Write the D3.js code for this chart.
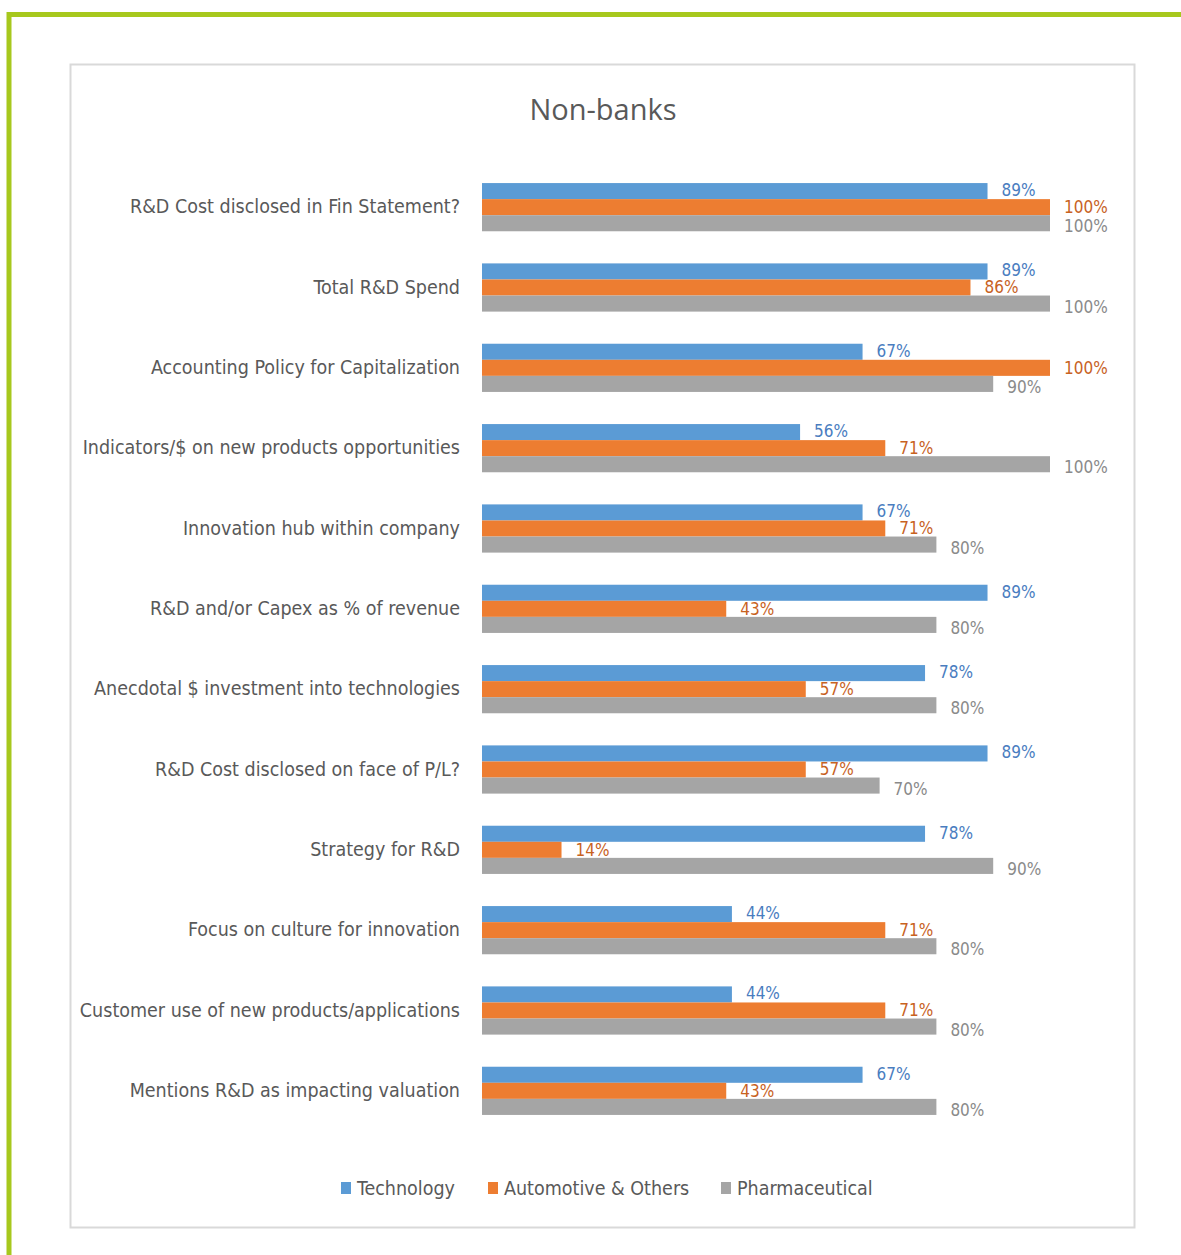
<!DOCTYPE html>
<html>
<head>
<meta charset="utf-8">
<script src="https://cdn.jsdelivr.net/npm/d3@7"></script>
<style>
  html, body { margin: 0; padding: 0; background: #ffffff; }
  svg { display: block; }
</style>
</head>
<body>
<svg id="chart" width="1181" height="1255"></svg>
<script>
// Survey categories, top to bottom
const categories = [
  "R&D Cost disclosed in  Fin Statement?",
  "Total R&D Spend",
  "Accounting Policy for Capitalization",
  "Indicators/$ on new products opportunities",
  "Innovation hub within company",
  "R&D and/or Capex as % of revenue",
  "Anecdotal $ investment into technologies",
  "R&D Cost disclosed on face of P/L?",
  "Strategy for R&D",
  "Focus on culture for innovation",
  "Customer use of new products/applications",
  "Mentions R&D as impacting valuation"
];

const seriesNames = ["Technology", "Automotive & Others", "Pharmaceutical"];

// Share of companies (%) per category
const technology  = [89, 89, 67, 56, 67, 89, 78, 89, 78, 44, 44, 67];
const automotive  = [100, 86, 100, 71, 71, 43, 57, 57, 14, 71, 71, 43];
const pharma      = [100, 100, 90, 100, 80, 80, 80, 70, 90, 80, 80, 80];

const barColors   = ["#5b9bd5", "#ed7d31", "#a5a5a5"];
const labelColors = ["#4a7dbf", "#c8621f", "#8a8a8a"];
const seriesValues = [technology, automotive, pharma];

const font = "'Liberation Sans Narrow', 'DejaVu Sans Condensed', 'Arial Narrow', sans-serif";

const svg = d3.select("#chart");

// Outer frame (green rule along top and left)
svg.append("rect")
  .attr("x", 9).attr("y", 14.5)
  .attr("width", 1200).attr("height", 1300)
  .attr("fill", "none")
  .attr("stroke", "#a7c81d")
  .attr("stroke-width", 5);

// Chart area box
svg.append("rect")
  .attr("x", 70.5).attr("y", 64.5)
  .attr("width", 1064).attr("height", 1163)
  .attr("fill", "#ffffff")
  .attr("stroke", "#d9d9d9")
  .attr("stroke-width", 2);

// Title
svg.append("text")
  .attr("x", 603).attr("y", 120)
  .attr("text-anchor", "middle")
  .attr("font-family", "'Open Sans', 'Noto Sans', sans-serif")
  .attr("font-size", 29)
  .attr("fill", "#595959")
  .text("Non-banks");

// Scales
const x = d3.scaleLinear().domain([0, 100]).range([482, 1050]);
const y0 = d3.scaleBand()
  .domain(categories)
  .range([167, 1131])
  .paddingInner(0.4)
  .paddingOuter(0.2);
const y1 = d3.scaleBand()
  .domain(seriesNames)
  .range([0, y0.bandwidth()]);

// Category axis (labels only)
const yAxis = d3.axisLeft(y0).tickSize(0).tickPadding(0);
const axisG = svg.append("g")
  .attr("transform", `translate(${x(0) - 22},0)`)
  .call(yAxis);
axisG.select(".domain").remove();
axisG.selectAll("text")
  .attr("font-family", font)
  .attr("font-size", 19.5)
  .attr("fill", "#595959");

// Rows of grouped bars
const rows = categories.map((c, i) => ({
  category: c,
  values: seriesNames.map((s, k) => ({ series: s, k, value: seriesValues[k][i] }))
}));

const groups = svg.append("g")
  .selectAll("g")
  .data(rows)
  .join("g")
  .attr("transform", d => `translate(0,${y0(d.category)})`);

groups.selectAll("rect")
  .data(d => d.values)
  .join("rect")
  .attr("x", x(0))
  .attr("y", d => y1(d.series))
  .attr("width", d => x(d.value) - x(0))
  .attr("height", y1.bandwidth())
  .attr("fill", d => barColors[d.k]);

// Value labels at outside end
const labelShift = [-1, 0, 3];
groups.selectAll("text.val")
  .data(d => d.values)
  .join("text")
  .attr("class", "val")
  .attr("x", d => x(d.value) + 14)
  .attr("y", d => y1(d.series) + y1.bandwidth() / 2 + labelShift[d.k])
  .attr("dy", "0.35em")
  .attr("font-family", font)
  .attr("font-size", 17)
  .attr("fill", d => labelColors[d.k])
  .text(d => d.value + "%");

// Legend
const legendItems = [
  { name: seriesNames[0], x: 341 },
  { name: seriesNames[1], x: 488 },
  { name: seriesNames[2], x: 721 }
];
const legend = svg.append("g")
  .selectAll("g")
  .data(legendItems)
  .join("g")
  .attr("transform", d => `translate(${d.x},1188)`);
legend.append("rect")
  .attr("x", 0).attr("y", -6)
  .attr("width", 10).attr("height", 12)
  .attr("fill", (d, i) => barColors[i]);
legend.append("text")
  .attr("x", 16).attr("y", 0)
  .attr("dy", "0.35em")
  .attr("font-family", font)
  .attr("font-size", 19.5)
  .attr("fill", "#595959")
  .text(d => d.name);
</script>
</body>
</html>
